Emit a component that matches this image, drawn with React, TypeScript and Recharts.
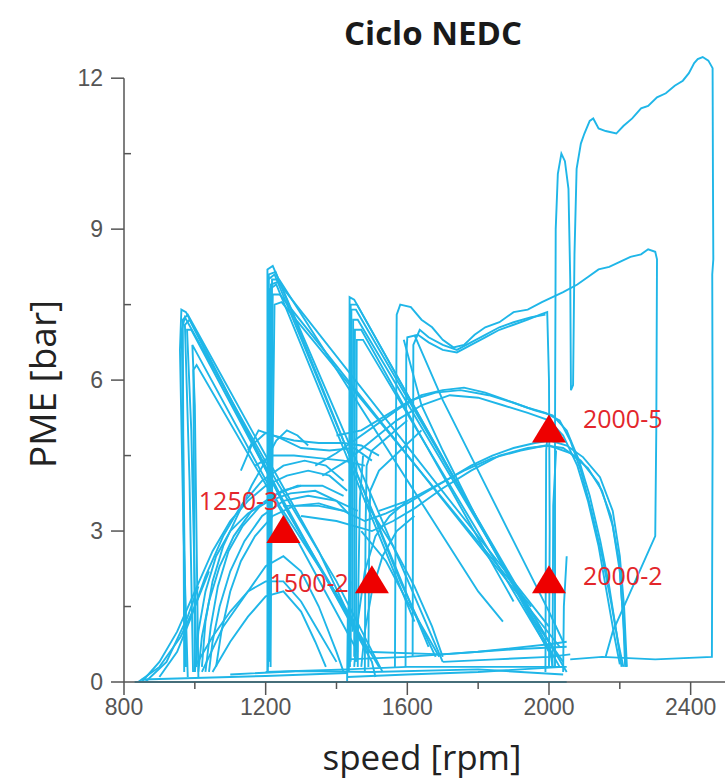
import React from 'react';
import { ComposedChart, Line, Scatter, XAxis, YAxis, ReferenceLine } from 'recharts';

type Pt = [number, number]; // [speed rpm, PME bar]

const xTicks = [800, 1000, 1200, 1400, 1600, 1800, 2000, 2200, 2400];
const xLabels = [800, 1200, 1600, 2000, 2400];
const yTicks = [0, 1.5, 3, 4.5, 6, 7.5, 9, 10.5, 12];
const yLabels = [0, 3, 6, 9, 12];

// baseline / idle
const base1: Pt[] = [[830, 0], [1000, 0], [1440, 0], [2050, 0]];
const base2: Pt[] = [[850, 0.05], [1000, 0.08], [1200, 0.12], [1430, 0.18]];
const base3: Pt[] = [[1200, 0.2], [1430, 0.25], [1600, 0.3], [2050, 0.3]];
const base4: Pt[] = [[1430, 0.45], [1600, 0.5], [1800, 0.6], [2000, 0.75], [2050, 0.8]];
const base5: Pt[] = [[1480, 0.6], [1700, 0.55], [1900, 0.65], [2050, 0.7]];
const base6: Pt[] = [[1100, 0.15], [1300, 0.22], [1500, 0.2], [1800, 0.25], [2040, 0.15]];
const base7: Pt[] = [[1430, 0.1], [1600, 0.15], [1800, 0.2], [2040, 0.3]];
const base8: Pt[] = [[1700, 0.4], [1850, 0.45], [2000, 0.5], [2060, 0.55]];
const ramp1: Pt[] = [[840, 0], [900, 0.3], [960, 0.9], [1000, 1.5], [1040, 2.2]];
const ramp2: Pt[] = [[860, 0], [920, 0.4], [980, 1.3], [1010, 1.9]];

// first gear spike ~970 rpm
const spikeA1: Pt[] = [[980, 0.1], [968, 3], [958, 6.6], [962, 7.4], [975, 7.35], [1250, 3.6], [1500, 0.4], [1510, 0.1]];
const spikeA2: Pt[] = [[995, 0.2], [985, 4], [972, 7.1], [985, 7.2], [1260, 3.4], [1490, 0.6]];
const spikeA3: Pt[] = [[1005, 0.3], [990, 5], [978, 7.0], [990, 7.0], [1270, 3.3], [1520, 0.3]];
const spikeA4: Pt[] = [[1010, 0.1], [1000, 5.5], [993, 6.7], [1240, 3.5], [1450, 1.2]];
const spikeA5: Pt[] = [[970, 0.2], [966, 7.2], [980, 7.3], [1200, 4.5], [1350, 2.6], [1470, 0.8]];
const spikeA6: Pt[] = [[975, 0.3], [963, 7.0], [972, 7.25], [1230, 4.0], [1400, 2.0], [1530, 0.2]];
const spikeA7: Pt[] = [[1000, 0.2], [996, 6.2], [1005, 6.3], [1260, 3.2], [1460, 0.6]];

// second gear spike ~1210 rpm
const spikeB1: Pt[] = [[1205, 0.2], [1205, 8.2], [1220, 8.27], [1700, 0.4]];
const spikeB2: Pt[] = [[1208, 0.6], [1207, 8.0], [1225, 8.1], [1660, 0.7]];
const spikeB3: Pt[] = [[1212, 1.0], [1210, 7.8], [1230, 7.9], [1620, 1.2]];
const spikeB4: Pt[] = [[1207, 0.3], [1215, 7.9], [1235, 7.95], [2000, 1.1]];
const spikeB5: Pt[] = [[1210, 0.5], [1220, 7.7], [1240, 7.7], [2030, 0.7]];
const spikeB6: Pt[] = [[1212, 0.4], [1225, 7.5], [1245, 7.55], [1950, 1.5]];
const spikeB7: Pt[] = [[1206, 0.2], [1209, 8.1], [1228, 8.15], [1580, 2.0], [1680, 0.5]];
const spikeB8: Pt[] = [[1214, 0.3], [1218, 8.0], [1238, 8.0], [1800, 1.8], [1870, 1.2]];

// third gear spike ~1440 rpm
const spikeC1: Pt[] = [[1435, 0.2], [1437, 7.65], [1450, 7.6], [2030, 0.3]];
const spikeC2: Pt[] = [[1440, 0.4], [1442, 7.4], [1455, 7.4], [2000, 0.8], [2010, 0.3]];
const spikeC3: Pt[] = [[1445, 1.0], [1447, 7.2], [1460, 7.2], [2050, 0.2]];
const spikeC4: Pt[] = [[1450, 0.5], [1452, 7.0], [1470, 7.0], [1900, 1.6]];
const spikeC5: Pt[] = [[1438, 0.3], [1440, 7.5], [1458, 7.5], [1960, 1.2], [2040, 0.4]];
const spikeC6: Pt[] = [[1455, 0.4], [1457, 6.8], [1475, 6.8], [2010, 0.5]];
const vert1430: Pt[] = [[1430, 0], [1432, 1.3], [1440, 2.0]];

// diagonals leaving the 1600 rpm verticals
const fanF1: Pt[] = [[1590, 6.8], [1640, 5.5], [1700, 4.6], [1800, 3.2], [1900, 1.9], [2000, 0.6]];
const fanF2: Pt[] = [[1620, 6.9], [1700, 5.6], [1800, 4.2], [1900, 2.8], [2000, 1.4], [2040, 0.8]];

// high load tracks
const trackT1: Pt[] = [
  [1565, 0.3], [1568, 5], [1570, 7.3], [1580, 7.5], [1610, 7.45], [1640, 7.2], [1670, 7.05], [1700, 6.8],
  [1730, 6.65], [1760, 6.7], [1790, 6.9], [1820, 7.05], [1860, 7.15], [1900, 7.35], [1940, 7.4], [1980, 7.55],
  [2010, 7.65], [2040, 7.75], [2080, 7.9], [2110, 8.05], [2140, 8.2], [2170, 8.25], [2200, 8.35], [2230, 8.45],
  [2260, 8.5], [2280, 8.6], [2300, 8.55], [2305, 8.4], [2303, 5], [2300, 2.9], [2180, 1.0], [2160, 0.5],
];
const trackT2: Pt[] = [
  [1595, 0.3], [1597, 6.5], [1600, 6.85], [1630, 6.9], [1660, 6.75], [1700, 6.6], [1740, 6.55], [1780, 6.7],
  [1820, 6.85], [1860, 7.0], [1900, 7.1], [1940, 7.2], [1975, 7.3], [1995, 7.35], [2000, 6], [2002, 3], [2000, 0.3],
];
const trackT3: Pt[] = [
  [1615, 0.5], [1617, 6.7], [1635, 7.0], [1660, 6.85], [1700, 6.7], [1740, 6.6], [1780, 6.75], [1820, 6.9],
  [1860, 7.05], [1900, 7.15], [1950, 7.25], [1990, 7.3],
];
const trackU: Pt[] = [
  [2017, 0.3], [2017, 5], [2019, 9], [2025, 10.1], [2035, 10.5], [2045, 10.35], [2055, 9.8], [2060, 8], [2062, 5.8],
  [2068, 5.9], [2072, 8.5], [2078, 10.2], [2090, 10.7], [2100, 10.9], [2115, 11.15], [2125, 11.2], [2140, 11.0],
  [2160, 10.95], [2190, 10.9], [2210, 11.05], [2235, 11.2], [2260, 11.4], [2280, 11.45], [2305, 11.62], [2330, 11.7],
  [2355, 11.85], [2378, 11.95], [2395, 12.1], [2410, 12.3], [2420, 12.38], [2434, 12.42], [2450, 12.35], [2462, 12.2],
  [2463, 10], [2464, 8.4], [2461, 8.1], [2462, 5], [2460, 0.5], [2300, 0.45], [2150, 0.5], [2060, 0.45],
];
const vert2000a: Pt[] = [[1990, 0.2], [1992, 4.6], [2000, 5.2]];
const vert2000b: Pt[] = [[2010, 0.3], [2012, 3.5], [2020, 4.6]];
const vert2040: Pt[] = [[2040, 0.2], [2042, 1.5], [2050, 2.5]];

// acceleration domes
const domeD1a: Pt[] = [[850, 0], [900, 0.4], [950, 1.0], [1000, 1.8], [1050, 2.6], [1100, 3.2], [1150, 3.6], [1200, 3.9], [1260, 4.1], [1320, 4.2], [1380, 4.1], [1430, 3.8]];
const domeD1b: Pt[] = [[1000, 0.2], [1010, 1.0], [1030, 1.8], [1060, 2.5], [1100, 3.0], [1150, 3.35], [1210, 3.6], [1270, 3.75], [1340, 3.8], [1400, 3.6], [1440, 3.3]];
const domeD1c: Pt[] = [[1020, 0.3], [1030, 1.2], [1050, 2.0], [1080, 2.7], [1120, 3.3], [1160, 3.9], [1200, 4.4], [1230, 4.8], [1260, 5.0], [1290, 4.9], [1320, 4.7]];
const domeD1d: Pt[] = [[1040, 0.2], [1050, 0.8], [1070, 1.5], [1100, 2.2], [1140, 2.8], [1190, 3.3], [1250, 3.6], [1320, 3.7], [1400, 3.6], [1460, 3.4]];
const domeD1e: Pt[] = [[1060, 0.3], [1075, 1.0], [1100, 1.8], [1130, 2.4], [1170, 2.9], [1220, 3.3], [1280, 3.5], [1350, 3.55], [1420, 3.4]];
const domeD1f: Pt[] = [[1000, 0.3], [1050, 0.9], [1100, 1.4], [1150, 1.8], [1200, 2.0], [1250, 2.0], [1300, 1.6], [1350, 1.0], [1400, 0.4]];
const domeD1g: Pt[] = [[1050, 0.2], [1100, 0.8], [1150, 1.3], [1200, 1.7], [1250, 1.8], [1300, 1.4], [1340, 0.8], [1370, 0.3]];
const domeD1h: Pt[] = [[900, 0.1], [950, 0.6], [990, 1.3], [1030, 2.1], [1080, 2.9], [1130, 3.5], [1190, 4.0], [1250, 4.3], [1310, 4.4], [1370, 4.3], [1420, 4.0]];
const domeD1i: Pt[] = [[1010, 0.2], [1020, 0.9], [1040, 1.6], [1070, 2.3], [1110, 2.9], [1160, 3.4], [1220, 3.7], [1290, 3.9], [1360, 3.9], [1420, 3.7]];
const domeD1j: Pt[] = [[1030, 0.2], [1045, 1.1], [1065, 1.9], [1095, 2.6], [1135, 3.1], [1185, 3.5], [1245, 3.8], [1300, 3.9]];
const domeD1k: Pt[] = [[1020, 0.2], [1080, 1.1], [1140, 1.7], [1200, 2.3], [1250, 2.5], [1300, 2.2], [1350, 1.5], [1400, 0.6], [1420, 0.2]];
const domeD2a: Pt[] = [[1340, 4.3], [1400, 4.55], [1460, 4.85], [1520, 5.15], [1580, 5.45], [1640, 5.7], [1700, 5.8], [1760, 5.85], [1820, 5.75], [1880, 5.6], [1940, 5.45], [1990, 5.35], [2030, 5.2], [2060, 4.8], [2090, 4.2], [2120, 3.4], [2150, 2.5], [2175, 1.6], [2195, 0.8], [2210, 0.3]];
const domeD2b: Pt[] = [[1360, 4.1], [1430, 4.4], [1500, 4.8], [1570, 5.2], [1640, 5.5], [1720, 5.7], [1800, 5.65], [1870, 5.5], [1940, 5.35], [2000, 5.2], [2040, 4.9], [2080, 4.3], [2110, 3.6], [2140, 2.7], [2165, 1.7], [2185, 0.9], [2200, 0.35]];
const domeD2c: Pt[] = [[1400, 4.9], [1470, 5.0], [1540, 5.3], [1610, 5.6], [1680, 5.75], [1750, 5.8], [1830, 5.7], [1900, 5.55], [1960, 5.4], [2010, 5.3], [2050, 5.0], [2085, 4.4], [2115, 3.7], [2145, 2.8], [2170, 1.9], [2190, 1.0], [2205, 0.3]];
const domeD3a: Pt[] = [[1250, 3.5], [1350, 3.5], [1420, 3.4], [1480, 3.2], [1540, 3.35], [1600, 3.55], [1660, 3.8], [1720, 4.05], [1780, 4.3], [1840, 4.5], [1900, 4.65], [1960, 4.75], [2003, 4.8], [2050, 4.7], [2096, 4.47], [2144, 4.07], [2180, 3.4], [2200, 2.5], [2212, 1.5], [2220, 0.3]];
const domeD3b: Pt[] = [[1300, 3.3], [1400, 3.2], [1500, 3.0], [1560, 3.2], [1620, 3.45], [1700, 3.85], [1780, 4.2], [1860, 4.5], [1940, 4.65], [2000, 4.7], [2060, 4.55], [2110, 4.25], [2150, 3.8], [2180, 3.1], [2200, 2.2], [2212, 1.0], [2218, 0.3]];
const domeD3c: Pt[] = [[1520, 3.4], [1600, 3.6], [1680, 3.9], [1760, 4.2], [1840, 4.45], [1920, 4.6], [1990, 4.7], [2040, 4.65], [2090, 4.4], [2140, 3.95], [2175, 3.3], [2198, 2.4], [2210, 1.2], [2215, 0.3]];
const domeD4a: Pt[] = [[1150, 4.6], [1180, 5.0], [1220, 4.9], [1280, 4.8], [1350, 4.75], [1420, 4.75], [1470, 4.7], [1520, 4.5]];
const domeD4b: Pt[] = [[1170, 4.3], [1220, 4.5], [1280, 4.5], [1350, 4.45], [1420, 4.4], [1480, 4.3]];
const domeD4c: Pt[] = [[1130, 4.2], [1160, 4.7], [1200, 4.95], [1240, 4.85], [1300, 4.65], [1380, 4.6], [1450, 4.65], [1500, 4.4]];

// 1450-1700 rpm transients
const transE1: Pt[] = [[1450, 0.3], [1460, 1.2], [1480, 2.2], [1510, 2.9], [1550, 3.3], [1600, 3.6]];
const transE2: Pt[] = [[1470, 0.3], [1480, 1.0], [1500, 1.8], [1530, 2.5], [1570, 3.0], [1620, 3.3]];
const transE3: Pt[] = [[1470, 3.0], [1540, 2.4], [1600, 1.6], [1650, 1.0], [1690, 0.5]];
const transE4: Pt[] = [[1480, 3.6], [1560, 2.7], [1620, 1.9], [1670, 1.1], [1700, 0.5]];
const transE5: Pt[] = [[1480, 0.2], [1482, 3.0], [1485, 4.3], [1500, 4.6], [1550, 4.9], [1600, 5.2]];
const transE6: Pt[] = [[1490, 0.3], [1492, 2.5], [1495, 3.8], [1520, 4.2], [1580, 4.6], [1640, 5.0]];
const transE7: Pt[] = [[1460, 0.3], [1462, 2.0], [1466, 3.6], [1475, 4.5]];

const traces: Pt[][] = [
  base1, base2, base3, base4, base5, base6, base7, base8, ramp1, ramp2,
  spikeA1, spikeA2, spikeA3, spikeA4, spikeA5, spikeA6, spikeA7,
  spikeB1, spikeB2, spikeB3, spikeB4, spikeB5, spikeB6, spikeB7, spikeB8,
  spikeC1, spikeC2, spikeC3, spikeC4, spikeC5, spikeC6, vert1430, fanF1, fanF2,
  trackT1, trackT2, trackT3, trackU, vert2000a, vert2000b, vert2040,
  domeD1a, domeD1b, domeD1c, domeD1d, domeD1e, domeD1f, domeD1g, domeD1h, domeD1i, domeD1j, domeD1k,
  domeD2a, domeD2b, domeD2c, domeD3a, domeD3b, domeD3c, domeD4a, domeD4b, domeD4c,
  transE1, transE2, transE3, transE4, transE5, transE6, transE7,
];

// measured operating points
const opSpeed = [1250, 1500, 2000, 2000];
const opPme = [3, 2, 5, 2];
const opLabels = ['1250-3', '1500-2', '2000-5', '2000-2'];
const points = opSpeed.map((speed, i) => ({ speed, pme: opPme[i], label: opLabels[i] }));

const labelPlace: Record<string, { dx: number; dy: number; anchor: 'start' | 'end' }> = {
  '1250-3': { dx: -5, dy: -21, anchor: 'end' },
  '1500-2': { dx: -23, dy: 11, anchor: 'end' },
  '2000-5': { dx: 34, dy: -2, anchor: 'start' },
  '2000-2': { dx: 34, dy: 4, anchor: 'start' },
};

const BLUE = '#1fb6e8';
const AXIS = '#555';
const tickFont = "'Liberation Sans', Arial, sans-serif";
const titleFont = "'Open Sans', sans-serif";

const toRows = (pts: Pt[]) => pts.map(([speed, pme]) => ({ speed, pme }));

const XTick = ({ x, y, payload }: any) => {
  const major = xLabels.includes(payload.value);
  return (
    <g>
      <line x1={x} y1={y} x2={x} y2={y + (major ? 13 : 7)} stroke={AXIS} strokeWidth={1.5} />
      {major && (
        <text x={x} y={y + 33} textAnchor="middle" fontSize={23} fontFamily={tickFont} fill="#555">
          {payload.value}
        </text>
      )}
    </g>
  );
};

const YTick = ({ x, y, payload }: any) => {
  const major = yLabels.includes(payload.value);
  if (!major) {
    return <line x1={x} y1={y} x2={x + 7} y2={y} stroke={AXIS} strokeWidth={1.5} />;
  }
  return (
    <g>
      <line x1={x - 13} y1={y} x2={x} y2={y} stroke={AXIS} strokeWidth={1.5} />
      <text x={x - 21} y={y} dy="0.35em" textAnchor="end" fontSize={23} fontFamily={tickFont} fill="#555">
        {payload.value}
      </text>
    </g>
  );
};

const Marker = (props: any) => {
  const { cx, cy, payload } = props;
  const lp = labelPlace[payload.label];
  return (
    <g>
      <polygon points={`${cx},${cy - 16} ${cx - 17},${cy + 12} ${cx + 17},${cy + 12}`} fill="#ee0000" />
      <text x={cx + lp.dx} y={cy + lp.dy} textAnchor={lp.anchor} fontSize={25} fontFamily={titleFont} fill="#e3262b">
        {payload.label}
      </text>
    </g>
  );
};

export default function App() {
  return (
    <div style={{ position: 'absolute', left: 0, top: 0, width: 725, height: 780, background: '#fff', overflow: 'hidden' }}>
      <ComposedChart width={725} height={780} margin={{ top: 48, right: 0, bottom: 58, left: 64 }}>
        <XAxis
          type="number"
          dataKey="speed"
          domain={[800, 2497]}
          ticks={xTicks}
          interval={0}
          height={40}
          tickSize={0}
          tickMargin={0}
          tickLine={false}
          axisLine={{ stroke: AXIS, strokeWidth: 1.5 }}
          tick={<XTick />}
        />
        <YAxis
          type="number"
          domain={[0, 12.6]}
          ticks={yTicks}
          interval={0}
          width={60}
          tickSize={0}
          tickMargin={0}
          tickLine={false}
          axisLine={false}
          tick={<YTick />}
        />
        <ReferenceLine segment={[{ x: 800, y: 0 }, { x: 800, y: 12 }]} stroke={AXIS} strokeWidth={1.5} />
        {traces.map((t, i) => (
          <Line
            key={`trace-${i}`}
            data={toRows(t)}
            dataKey="pme"
            type="linear"
            stroke={BLUE}
            strokeWidth={1.9}
            dot={false}
            activeDot={false}
            isAnimationActive={false}
          />
        ))}
        <Scatter data={points} dataKey="pme" shape={<Marker />} isAnimationActive={false} />
      </ComposedChart>
      <svg width={725} height={780} style={{ position: 'absolute', left: 0, top: 0, pointerEvents: 'none' }}>
        <text x={433} y={45} textAnchor="middle" fontSize={33} fontWeight="bold" fontFamily={titleFont} fill="#1a1a1a">
          Ciclo NEDC
        </text>
        <text x={422} y={770} textAnchor="middle" fontSize={35} fontFamily={titleFont} fill="#222">
          speed [rpm]
        </text>
        <text x={56} y={384} textAnchor="middle" fontSize={37} fontFamily={titleFont} fill="#222" transform="rotate(-90 56 384)">
          PME [bar]
        </text>
      </svg>
    </div>
  );
}
